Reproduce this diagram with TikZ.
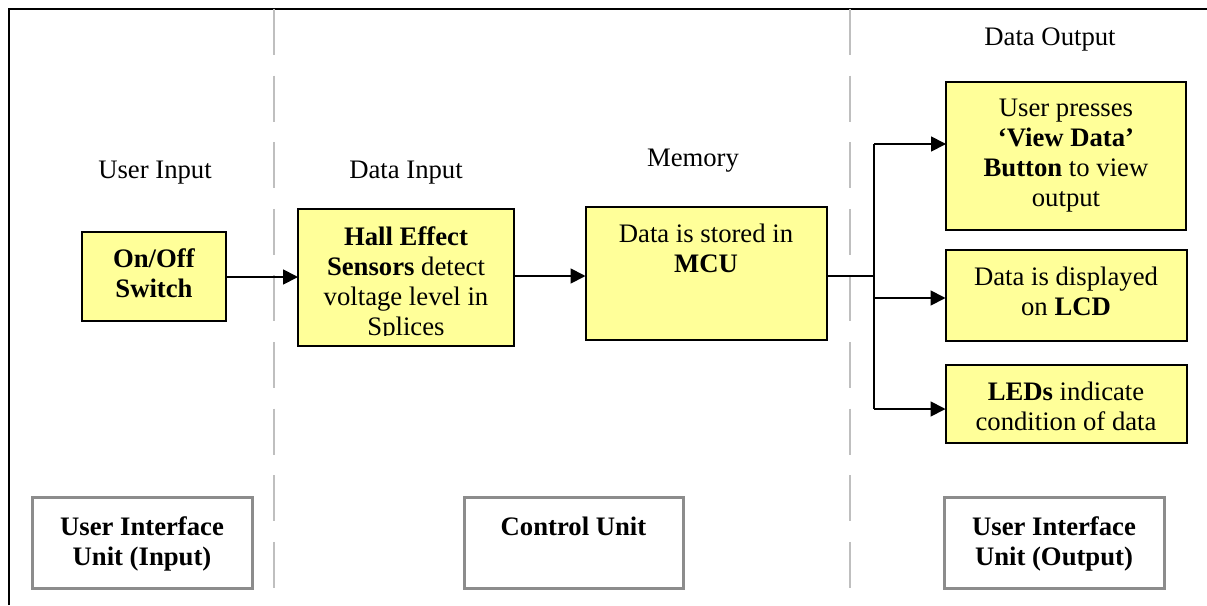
\documentclass[tikz,border=0pt]{standalone}
\usepackage{fontspec}
\setmainfont{Liberation Serif}
\usetikzlibrary{arrows.meta}
\begin{document}
\begin{tikzpicture}[x=1pt,y=-1pt,
  every node/.style={inner sep=0pt, outer sep=0pt},
  txt/.style={font=\fontsize{26.7}{30}\selectfont, align=center},
  ybox/.style={draw=black, line width=2pt, fill={rgb,255:red,255;green,255;blue,153}},
  ubox/.style={draw=black!45, line width=3pt, fill=white},
  divider/.style={draw=black!25, line width=1.5pt, dash pattern=on 46pt off 20.6pt},
  arr/.style={draw=black, line width=1.8pt, -{Triangle[length=15pt,width=15pt]}},
  conn/.style={draw=black, line width=1.8pt},
]
\useasboundingbox (0,0) rectangle (1207,605);
% frame
\draw[line width=1.8pt] (9,605) -- (9,9) -- (1207,9);
% dividers
\draw[divider] (274,9) -- (274,588);
\draw[divider] (850,9) -- (850,588);

% column labels
\node[txt, anchor=base] (lui) at (155,178) {User Input};
\node[txt, anchor=base] (ldi) at (406,178) {Data Input};
\node[txt, anchor=base] (lmem) at (693,166) {Memory};
\node[txt, anchor=base] (ldo) at (1050,45) {Data Output};

% yellow boxes
\node[ybox, minimum width=144, minimum height=89] (onoff) at (154,276.5) {};
\node[ybox, minimum width=216, minimum height=137] (hall) at (406,277.5) {};
\node[ybox, minimum width=241, minimum height=133] (mcu) at (706,273.5) {};
\node[ybox, minimum width=240, minimum height=148] (view) at (1066,156) {};
\node[ybox, minimum width=241, minimum height=91] (lcd) at (1066,295.5) {};
\node[ybox, minimum width=241, minimum height=78] (leds) at (1066,404) {};

% texts of yellow boxes
\node[txt, anchor=north] (tonoff) at (154,248.5) {\textbf{On/Off}\\\textbf{Switch}};
\begin{scope}
\clip (299,210) rectangle (513,335);
\node[txt, anchor=north] (thall) at (406,226.5) {\textbf{Hall Effect}\\\textbf{Sensors} detect\\voltage level in\\Splices};
\end{scope}
\node[txt, anchor=north] (tmcu) at (706,223.5) {Data is stored in\\\textbf{MCU}};
\node[txt, anchor=north] (tview) at (1066,99.5) {User presses\\\textbf{‘View Data’}\\\textbf{Button} to view\\output};
\node[txt, anchor=north] (tlcd) at (1066,266.5) {Data is displayed\\on \textbf{LCD}};
\node[txt, anchor=north] (tleds) at (1066,381.5) {\textbf{LEDs} indicate\\condition of data};

% unit boxes
\node[ubox, minimum width=220, minimum height=91] (uiin) at (142,542.5) {};
\node[ubox, minimum width=219, minimum height=91] (ctrl) at (573.5,542.5) {};
\node[ubox, minimum width=220, minimum height=91] (uiout) at (1054,542.5) {};
\node[txt, anchor=north] (tuiin) at (142,516.5) {\textbf{User Interface}\\\textbf{Unit (Input)}};
\node[txt, anchor=north] (tctrl) at (573.5,516.5) {\textbf{Control Unit}};
\node[txt, anchor=north] (tuiout) at (1054,516.5) {\textbf{User Interface}\\\textbf{Unit (Output)}};

% connectors
\coordinate (tin) at (874,276);
\coordinate (ttop) at (874,144);
\coordinate (tmid) at (874,298);
\coordinate (tbot) at (874,409);
\draw[arr] (onoff.east |- 0,277) -- (hall.west |- 0,277);
\draw[arr] (hall.east |- 0,276) -- (mcu.west |- 0,276);
\draw[conn] (mcu.east |- tin) -- (tin);
\draw[conn] (ttop) -- (tbot);
\draw[arr] (ttop) -- (ttop -| view.west);
\draw[arr] (tmid) -- (tmid -| lcd.west);
\draw[arr] (tbot) -- (tbot -| leds.west);
\end{tikzpicture}
\end{document}
